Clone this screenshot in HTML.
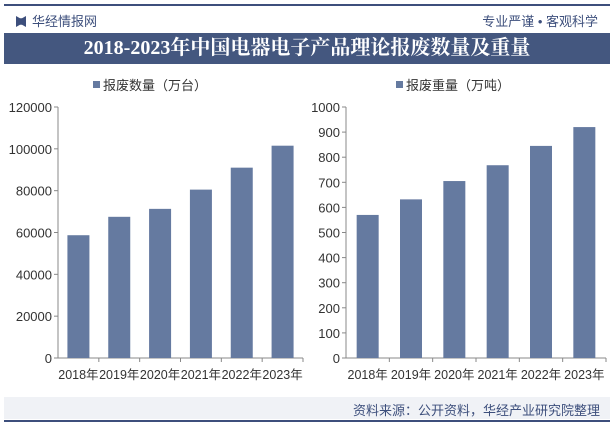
<!DOCTYPE html>
<html><head><meta charset="utf-8"><style>
body{margin:0;width:614px;height:427px;overflow:hidden;background:#fff;font-family:"Liberation Sans","Noto Sans CJK SC",sans-serif;position:relative}
.abs{position:absolute}
</style></head><body>
<div class="abs" style="left:4px;top:4px;width:606px;height:2px;background:#3d4f7c"></div>
<div class="abs" style="left:16px;top:11px;font-size:13px;color:#3d4f7c"><span style="display:inline-block;width:10px;height:11px;background:#3d4f7c;vertical-align:-1px;margin-right:6px;clip-path:polygon(0 0,40% 20%,60% 20%,100% 0,100% 100%,60% 80%,40% 80%,0 100%)"></span>华经情报网</div>
<div class="abs" style="right:16px;top:11px;font-size:13px;color:#3d4f7c">专业严谨 • 客观科学</div>
<div class="abs" style="left:4px;top:33px;width:606px;height:31px;background:#44577f;color:#fff;font-size:20px;font-weight:bold;text-align:center;line-height:31px;font-family:'Liberation Serif','Noto Serif CJK SC',serif">2018-2023年中国电器电子产品理论报废数量及重量</div>
<svg class="abs" style="left:0;top:0" width="614" height="427" id="svg"></svg>
<div class="abs" style="left:4px;top:397px;width:606px;height:22px;background:#f0f2f6"></div>
<div class="abs" style="right:14px;top:400px;font-size:13px;color:#3d4f7c">资料来源：公开资料，华经产业研究院整理</div>
<div class="abs" style="left:4px;top:420px;width:606px;height:2px;background:#3d4f7c"></div>
<script>
const categories=["2018年","2019年","2020年","2021年","2022年","2023年"];
const countValues=[58700,67500,71300,80500,91000,101500];
const weightValues=[570,632,705,768,845,920];
const countTicks=[0,20000,40000,60000,80000,100000,120000];
const weightTicks=[0,100,200,300,400,500,600,700,800,900,1000];
const svg=document.getElementById('svg');
const NS='http://www.w3.org/2000/svg';
function mk(t,a){const e=document.createElementNS(NS,t);for(const k in a)e.setAttribute(k,a[k]);svg.appendChild(e);return e;}
function chart(x0,x1,max,ticks,vals,legend,lx,nm){
  const y0=358,y1=107;
  const ys=v=>y0-(y0-y1)*v/max;
  const step=(x1-x0)/categories.length;
  const lg=mk('rect',{x:lx,y:81,width:7,height:7,fill:'#657aa0'});
  
  
  const lt=mk('text',{x:lx+10,y:90,'font-size':13,fill:'#333'});lt.textContent=legend;
  
  
  const ax=mk('line',{x1:x0,y1:y1,x2:x0,y2:y0,stroke:'#888'});
  
  
  ticks.forEach(t=>{
    mk('line',{x1:x0-4,x2:x0,y1:ys(t),y2:ys(t),stroke:'#888'});
    const tx=mk('text',{x:x0-6,y:ys(t)+5,'font-size':13,fill:'#333','text-anchor':'end'});tx.textContent=t;
    
    
  });
  const xa=mk('line',{x1:x0,y1:y0,x2:x1,y2:y0,stroke:'#888'});
  
  
  categories.forEach((c,i)=>{
    mk('line',{x1:x0+step*(i+1),x2:x0+step*(i+1),y1:y0,y2:y0+4,stroke:'#888'});
    const cx=x0+step*(i+0.5);
    const b=mk('rect',{x:cx-11,y:ys(vals[i]),width:22,height:y0-ys(vals[i]),fill:'#657aa0'});
    
    
    const tx=mk('text',{x:cx,y:379,'font-size':12.5,fill:'#333','text-anchor':'middle'});tx.textContent=c;
    
    
  });
}
chart(58,303,120000,countTicks,countValues,'报废数量（万台）',93,'count');
chart(346,606,1000,weightTicks,weightValues,'报废重量（万吨）',396,'weight');
</script>
</body></html>
